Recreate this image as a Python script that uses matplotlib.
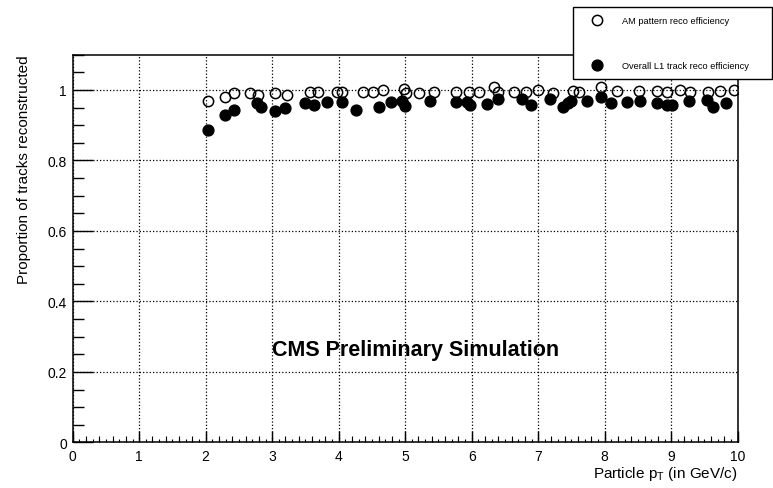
import numpy as np
import matplotlib.pyplot as plt
from matplotlib.ticker import MultipleLocator, NullFormatter

plt.rcParams['font.family'] = ['Liberation Sans', 'DejaVu Sans']
plt.rcParams['mathtext.fontset'] = 'custom'
plt.rcParams['mathtext.rm'] = 'Liberation Sans'
plt.rcParams['mathtext.it'] = 'Liberation Sans'

# эффективность AM pattern (пустые кружки)
pt_am = [2.04, 2.29, 2.43, 2.66, 2.79, 3.05, 3.23, 3.57, 3.69, 3.97, 4.05, 4.36, 4.51,
         4.67, 4.98, 5.02, 5.21, 5.44, 5.76, 5.96, 6.11, 6.34, 6.40, 6.63, 6.82, 6.99,
         7.22, 7.53, 7.62, 7.95, 8.19, 8.51, 8.78, 8.93, 9.14, 9.29, 9.56, 9.73, 9.94]
eff_am = [0.969, 0.979, 0.991, 0.991, 0.986, 0.991, 0.986, 0.993, 0.993, 0.995, 0.993, 0.993, 0.993,
          1.000, 1.003, 0.990, 0.991, 0.993, 0.995, 0.995, 0.993, 1.007, 0.993, 0.995, 0.995, 1.000,
          0.991, 0.997, 0.995, 1.007, 0.997, 0.997, 0.997, 0.993, 1.000, 0.995, 0.993, 0.997, 1.000]

# общая эффективность L1 треков (закрашенные кружки)
pt_l1 = [2.04, 2.29, 2.42, 2.77, 2.83, 3.04, 3.20, 3.49, 3.63, 3.82, 4.05, 4.26, 4.60, 4.79,
         4.95, 5.00, 5.38, 5.77, 5.93, 5.97, 6.23, 6.39, 6.75, 6.89, 7.18, 7.37, 7.45, 7.50,
         7.73, 7.95, 8.09, 8.34, 8.53, 8.79, 8.93, 9.01, 9.27, 9.54, 9.63, 9.83]
eff_l1 = [0.886, 0.929, 0.943, 0.962, 0.953, 0.939, 0.948, 0.962, 0.957, 0.967, 0.967, 0.943, 0.953, 0.965,
          0.968, 0.955, 0.969, 0.967, 0.967, 0.956, 0.959, 0.974, 0.974, 0.956, 0.974, 0.953, 0.962, 0.969,
          0.969, 0.981, 0.962, 0.967, 0.969, 0.962, 0.956, 0.956, 0.969, 0.972, 0.953, 0.962]

fig = plt.figure(figsize=(7.73, 4.89), dpi=100)
ax = fig.add_axes([0.094, 0.0933, 0.8603, 0.7928])

ax.plot(pt_am, eff_am, 'o', mfc='none', mec='black', mew=1.1, ms=7.4, label='AM pattern reco efficiency')
ax.plot(pt_l1, eff_l1, 'o', color='black', ms=7.8, label='Overall L1 track reco efficiency')

ax.set_xlim(0, 10)
ax.set_ylim(0, 1.1)

# деления как в ROOT: внутрь, с мелкими
ax.xaxis.set_major_locator(MultipleLocator(1))
ax.xaxis.set_minor_locator(MultipleLocator(0.1))
ax.yaxis.set_major_locator(MultipleLocator(0.2))
ax.yaxis.set_minor_locator(MultipleLocator(0.05))
ax.tick_params(axis='x', which='major', direction='in', length=8, width=1, labelsize=10, pad=5)
ax.tick_params(axis='x', which='minor', direction='in', length=2, width=0.8)
ax.tick_params(axis='y', which='major', direction='in', length=14.4, width=1, labelsize=10, pad=4)
ax.tick_params(axis='y', which='minor', direction='in', length=7.7, width=1)
ax.yaxis.set_major_formatter(plt.FuncFormatter(lambda v, p: '%g' % round(v, 2)))

sec = ax.secondary_xaxis('bottom')
sec.xaxis.set_major_locator(MultipleLocator(0.2))
sec.xaxis.set_major_formatter(NullFormatter())
sec.tick_params(direction='in', length=4, width=0.8)
sec.spines['bottom'].set_visible(False)

for s in ax.spines.values():
    s.set_linewidth(1.1)

ax.grid(True, which='major', linestyle=':', color='black', linewidth=0.9)

ax.set_ylabel('Proportion of tracks reconstructed', fontsize=11, loc='top')
ax.yaxis.set_label_coords(-0.063, 1.0)
ax.set_xlabel('Particle p$_{\\mathrm{T}}$ (in GeV/c)', fontsize=11, loc='right')
ax.xaxis.set_label_coords(1.0, -0.055)

ax.text(5.15, 0.263, 'CMS Preliminary Simulation', fontsize=15.5, fontweight='bold',
        ha='center', va='center')

fig.legend(loc='upper left', bbox_to_anchor=(573 / 773, 1 - 80 / 489, 198.7 / 773, 71.7 / 489),
           mode='expand', borderaxespad=0, fontsize=6.7, frameon=True, fancybox=False,
           edgecolor='black', framealpha=1, labelspacing=3.84, borderpad=0.95,
           handlelength=3.2, handletextpad=1.08)

fig.savefig('out.png', dpi=100)
